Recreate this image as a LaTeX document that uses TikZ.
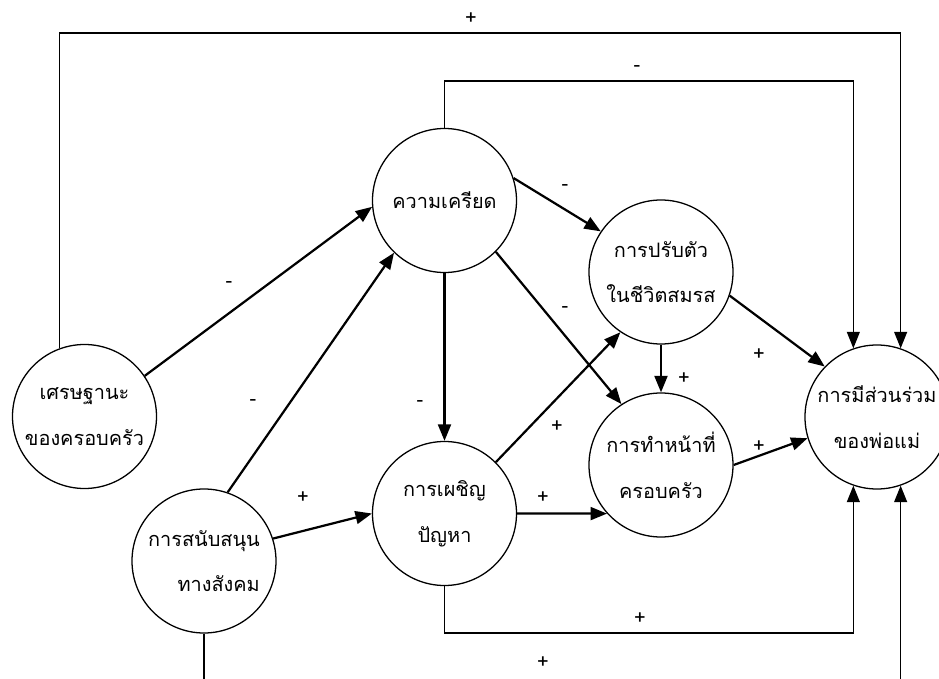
\documentclass[tikz,border=0pt]{standalone}
\usepackage{fontspec}
\newfontfamily\thaifont[Script=Thai]{Loma}
\usetikzlibrary{arrows.meta}

\begin{document}
\begin{tikzpicture}[x=0.03cm, y=-0.03cm,
  var/.style={shape=circle, draw=black, line width=1.1pt, minimum size=4.32cm, inner sep=0pt, align=center, font=\thaifont\fontsize{17}{39}\selectfont},
  link/.style={-{Triangle[length=14pt,width=11pt]}, line width=1.9pt, draw=black},
  loopline/.style={-{Triangle[length=14pt,width=11pt]}, line width=1.2pt, draw=black},
  sign/.style={font=\thaifont\fontsize{17}{17}\selectfont, inner sep=0pt}]
\useasboundingbox (0,0) rectangle (939,679);
\node[var] (stress) at (444.5,200.5) {ความเครียด};
\node[var] (adjust) at (661,272) {การปรับตัว\\ในชีวิตสมรส};
\node[var] (econ) at (84.5,416.5) {เศรษฐานะ\\ของครอบครัว};
\node[var, align=right] (support) at (204,561) {การสนับสนุน\\ทางสังคม};
\node[var] (cope) at (444.5,513.5) {การเผชิญ\\ปัญหา};
\node[var] (family) at (661,465) {การทำหน้าที่\\ครอบครัว};
\node[var] (particip) at (877,417) {การมีส่วนร่วม\\ของพ่อแม่};
% corners of the long links
\coordinate (t1) at (470,33);
\coordinate (t2) at (637,81);
\coordinate (b1) at (640,633);
\coordinate (b2) at (543,690);
\draw[loopline] (econ.110) |- (t1) -| (particip.71);
\draw[loopline] (stress.north) |- (t2) -| (particip.109);
\draw[loopline] (cope.south) |- (b1) -| (particip.251);
\draw[loopline] (support.south) |- (b2) -| (particip.289);
\path (econ.34) edge [link] (stress.185);
\path (support.71) edge [link] (stress.226);
\path (support.18) edge [link] (cope.west);
\path (stress.south) edge [link] (cope.north);
\path (stress.18) edge [link] (adjust.146);
\path (stress.-45) edge [link] (family.123);
\path (cope.45) edge [link] (adjust.236);
\path (cope.east) edge [link] (family.222);
\path (adjust.south) edge [link] (family.north);
\path (adjust.-19) edge [link] (particip.136);
\path (family.east) edge [link] (particip.197);
% signs
\node[sign] (s1) at (471,19) {+};
\node[sign] (s2) at (637,69) {-};
\node[sign] (s3) at (565,188) {-};
\node[sign] (s4) at (565,310) {-};
\node[sign] (s5) at (229,285) {-};
\node[sign] (s6) at (253,403) {-};
\node[sign] (s7) at (420,404) {-};
\node[sign] (s8) at (303,498) {+};
\node[sign] (s9) at (557,427) {+};
\node[sign] (s10) at (543,498) {+};
\node[sign] (s11) at (684,379) {+};
\node[sign] (s12) at (759,355) {+};
\node[sign] (s13) at (759,447) {+};
\node[sign] (s14) at (640,619) {+};
\node[sign] (s15) at (543,663) {+};
\end{tikzpicture}
\end{document}
